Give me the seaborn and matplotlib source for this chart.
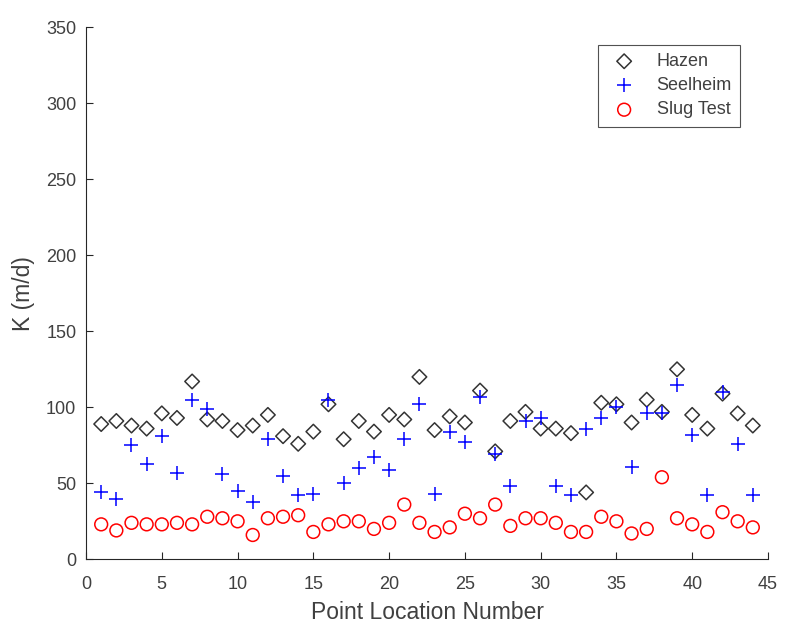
import matplotlib
matplotlib.use("Agg")
import matplotlib.pyplot as plt
import seaborn as sns
import pandas as pd

points = list(range(1, 45))
hazen = [89, 91, 88, 86, 96, 93, 117, 92, 91, 85, 88, 95, 81, 76, 84,
         102, 79, 91, 84, 95, 92, 120, 85, 94, 90, 111, 71, 91, 97, 86,
         86, 83, 44, 103, 102, 90, 105, 97, 125, 95, 86, 109, 96, 88]
seelheim = [44, 40, 75, 63, 81, 57, 105, 99, 56, 45, 38, 79, 55, 42, 43,
            105, 50, 60, 67, 59, 79, 102, 43, 84, 77, 107, 69, 48, 91, 93,
            48, 42, 86, 93, 100, 61, 96, 96, 115, 82, 42, 110, 76, 42]
slug = [23, 19, 24, 23, 23, 24, 23, 28, 27, 25, 16, 27, 28, 29, 18,
        23, 25, 25, 20, 24, 36, 24, 18, 21, 30, 27, 36, 22, 27, 27,
        24, 18, 18, 28, 25, 17, 20, 54, 27, 23, 18, 31, 25, 21]
xticks = [0, 5, 10, 15, 20, 25, 30, 35, 40, 45]
yticks = [0, 50, 100, 150, 200, 250, 300, 350]

sns.set_theme(style="ticks")
plt.rcParams['font.family'] = ['Liberation Sans', 'DejaVu Sans']

TXT = "#404040"
fig = plt.figure(figsize=(7.85, 6.35), dpi=100)
ax = fig.add_axes([0.1096, 0.1192, 0.8687, 0.8378])

df = pd.DataFrame({"x": points, "Hazen": hazen, "Seelheim": seelheim, "Slug": slug})

sns.scatterplot(data=df, x="x", y="Hazen", ax=ax, marker="D", s=55,
                facecolors="none", edgecolor="#333333", linewidth=1.1,
                label="Hazen", zorder=3)
sns.scatterplot(data=df, x="x", y="Seelheim", ax=ax, marker="+", s=110,
                color="#0000ff", linewidth=1.1, label="Seelheim", zorder=3)
sns.scatterplot(data=df, x="x", y="Slug", ax=ax, marker="o", s=85,
                facecolors="none", edgecolor="#ff0000", linewidth=1.1,
                label="Slug Test", zorder=3)

ax.set_xlim(0, 45)
ax.set_ylim(0, 350)
ax.set_xticks(xticks)
ax.set_yticks(yticks)
ax.set_xlabel("Point Location Number", fontsize=16.5, color=TXT, labelpad=6)
ax.set_ylabel("K (m/d)", fontsize=16.5, color=TXT, labelpad=8)
ax.tick_params(direction="in", length=5, width=0.8, colors="#262626",
               labelcolor=TXT, labelsize=13)
ax.tick_params(axis="x", pad=12)
ax.tick_params(axis="y", pad=7)
for side in ["top", "right"]:
    ax.spines[side].set_visible(False)
for side in ["left", "bottom"]:
    ax.spines[side].set_color("#262626")
    ax.spines[side].set_linewidth(0.8)

leg = ax.legend(loc="upper right", bbox_to_anchor=(0.959, 0.967), fontsize=13,
                frameon=True, fancybox=False, edgecolor="#262626",
                handletextpad=0.8, borderpad=0.45, labelspacing=0.4,
                handlelength=2.0, borderaxespad=0)
leg.get_frame().set_linewidth(0.8)
for t in leg.get_texts():
    t.set_color(TXT)

fig.savefig("out.png", dpi=100)
